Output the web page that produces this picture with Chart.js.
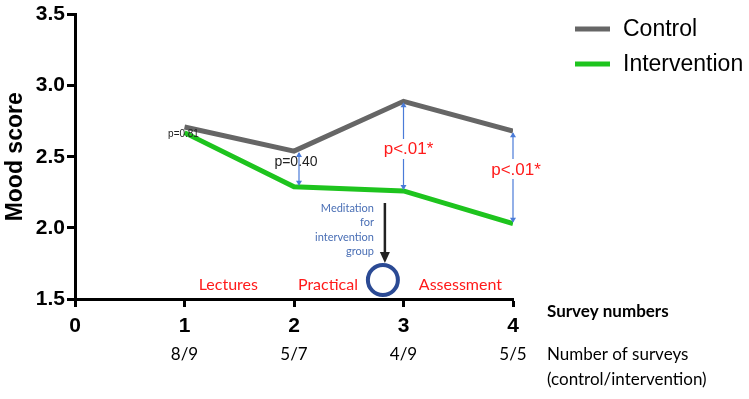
<!DOCTYPE html>
<html><head><meta charset="utf-8">
<script src="https://cdn.jsdelivr.net/npm/chart.js@4/dist/chart.umd.min.js"></script>
<style>html,body{margin:0;padding:0;background:#fff}#wrap{width:749px;height:399px}</style>
</head><body><div id="wrap"><canvas id="c" width="749" height="399"></canvas></div>
<script>
const surveys = [1, 2, 3, 4];
const control = [2.71, 2.54, 2.89, 2.68];
const intervention = [2.67, 2.29, 2.26, 2.03];
const counts = ["8/9", "5/7", "4/9", "5/5"];
const pLabels = ["p=0.81", "p=0.40", "p<.01*", "p<.01*"];
const phases = ["Lectures", "Practical", "Assessment"];
const phaseX = [1.40, 2.31, 3.52];
const meditationX = 2.83;
const seriesNames = ["Control", "Intervention"];
const colors = ["#666666", "#1ec41e"];

const annot = {
  id: 'annot',
  afterDatasetsDraw(chart) {
    const ctx = chart.ctx, xs = chart.scales.x, ys = chart.scales.y;
    ctx.save();
    // legend
    seriesNames.forEach((n, i) => {
      const y = 29 + i * 35;
      ctx.strokeStyle = colors[i]; ctx.lineWidth = 5;
      ctx.beginPath(); ctx.moveTo(575, y); ctx.lineTo(610, y); ctx.stroke();
      ctx.fillStyle = '#000'; ctx.font = '23px "Liberation Sans", Arial'; ctx.textBaseline = 'middle'; ctx.textAlign = 'left';
      ctx.fillText(n, 623, y + 1);
    });
    // right labels
    ctx.font = 'bold 17px Lato'; ctx.fillStyle = '#000';
    ctx.fillText('Survey numbers', 547, 312);
    ctx.font = '17px Lato';
    ctx.fillText('Number of surveys', 547, 355);
    ctx.fillText('(control/intervention)', 547, 380);
    ctx.textAlign = 'center';
    counts.forEach((c, i) => ctx.fillText(c, xs.getPixelForValue(surveys[i]), 355));
    // phases
    ctx.fillStyle = '#ff1a1a'; ctx.font = '16px Lato';
    phases.forEach((p, i) => ctx.fillText(p, xs.getPixelForValue(phaseX[i]), 285));
    // double arrows for surveys 2..4
    const arrow = (x, y1, y2) => {
      ctx.strokeStyle = '#4a7bd8'; ctx.fillStyle = '#4a7bd8'; ctx.lineWidth = 1.2;
      ctx.beginPath(); ctx.moveTo(x, y1 + 2); ctx.lineTo(x, y2 - 2); ctx.stroke();
      ctx.beginPath(); ctx.moveTo(x, y1 + 1); ctx.lineTo(x - 3, y1 + 6); ctx.lineTo(x + 3, y1 + 6); ctx.closePath(); ctx.fill();
      ctx.beginPath(); ctx.moveTo(x, y2 - 1); ctx.lineTo(x - 3, y2 - 6); ctx.lineTo(x + 3, y2 - 6); ctx.closePath(); ctx.fill();
    };
    for (let i = 1; i < 4; i++) {
      const x = xs.getPixelForValue(surveys[i]) + (i === 1 ? 5 : 0);
      arrow(x, ys.getPixelForValue(control[i]), ys.getPixelForValue(intervention[i]));
    }
    // p labels
    ctx.textBaseline = 'middle';
    ctx.fillStyle = '#222'; ctx.font = '10px "Liberation Sans", Arial';
    ctx.fillText(pLabels[0], xs.getPixelForValue(1) - 1, 134);
    ctx.font = '14px "Liberation Sans", Arial';
    ctx.fillText(pLabels[1], xs.getPixelForValue(2) + 2, 162);
    ctx.font = '17px "Liberation Sans", Arial';
    ctx.fillStyle = '#fff';
    ctx.fillRect(xs.getPixelForValue(3) - 28, 139, 58, 20);
    ctx.fillRect(xs.getPixelForValue(4) - 28, 159, 58, 20);
    ctx.fillStyle = '#ff1a1a';
    ctx.fillText(pLabels[2], xs.getPixelForValue(3) + 5, 149);
    ctx.fillText(pLabels[3], xs.getPixelForValue(4) + 3, 170);
    // meditation note
    ctx.fillStyle = '#4a6fb5'; ctx.font = '11px Lato'; ctx.textAlign = 'right';
    ['Meditation', 'for', 'intervention', 'group'].forEach((t, i) => ctx.fillText(t, 374, 208 + i * 14.5));
    // black arrow
    const ax = xs.getPixelForValue(meditationX);
    ctx.strokeStyle = '#222'; ctx.fillStyle = '#222'; ctx.lineWidth = 2.5;
    ctx.beginPath(); ctx.moveTo(ax, 203); ctx.lineTo(ax, 254); ctx.stroke();
    ctx.beginPath(); ctx.moveTo(ax - 5, 252); ctx.lineTo(ax + 5, 252); ctx.lineTo(ax, 263); ctx.closePath(); ctx.fill();
    // circle
    ctx.strokeStyle = '#2b4a94'; ctx.lineWidth = 4;
    ctx.beginPath(); ctx.arc(ax - 2, 280, 15, 0, Math.PI * 2); ctx.stroke();
    ctx.restore();
  }
};

new Chart(document.getElementById('c'), {
  type: 'line',
  data: {
    datasets: [
      { label: seriesNames[0], data: surveys.map((s, i) => ({ x: s, y: control[i] })), borderColor: colors[0], borderWidth: 5, pointRadius: 0, tension: 0 },
      { label: seriesNames[1], data: surveys.map((s, i) => ({ x: s, y: intervention[i] })), borderColor: colors[1], borderWidth: 5, pointRadius: 0, tension: 0 }
    ]
  },
  options: {
    responsive: false, animation: false,
    layout: { padding: { top: 10, right: 236, left: 0, bottom: 0 } },
    plugins: { legend: { display: false }, tooltip: { enabled: false } },
    scales: {
      x: {
        type: 'linear', min: 0, max: 4,
        afterFit: s => { s.height = 100; },
        border: { color: '#000', width: 3 },
        grid: { drawOnChartArea: false, color: '#000', tickLength: 8, tickWidth: 3 },
        ticks: { stepSize: 1, color: '#000', font: { family: '"Liberation Sans", Arial', size: 21, weight: 'bold' }, padding: 7 }
      },
      y: {
        min: 1.5, max: 3.5,
        afterFit: s => { s.width = 75; },
        border: { color: '#000', width: 3 },
        grid: { drawOnChartArea: false, color: '#000', tickLength: 8, tickWidth: 3 },
        ticks: { stepSize: 0.5, color: '#000', font: { family: '"Liberation Sans", Arial', size: 21, weight: 'bold' }, padding: 2, callback: v => v.toFixed(1) },
        title: { display: true, text: 'Mood score', color: '#000', font: { family: '"Liberation Sans", Arial', size: 23, weight: 'bold' }, padding: { top: 2, bottom: 0 } }
      }
    }
  },
  plugins: [annot]
});
</script></body></html>
